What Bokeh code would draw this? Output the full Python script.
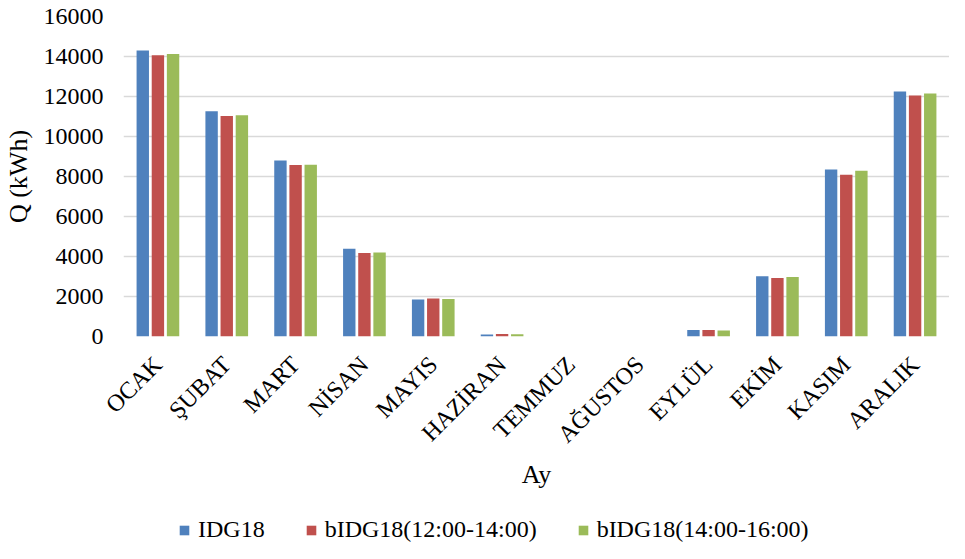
from math import pi
from bokeh.plotting import figure
from bokeh.layouts import column
from bokeh.models import ColumnDataSource, Range1d, Legend, LegendItem, FactorRange, FixedTicker
from bokeh.transform import dodge
from bokeh.embed import file_html
from bokeh.resources import INLINE

months = ["OCAK", "ŞUBAT", "MART", "NİSAN", "MAYIS", "HAZİRAN", "TEMMUZ",
          "AĞUSTOS", "EYLÜL", "EKİM", "KASIM", "ARALIK"]
idg18 = [14300, 11265, 8800, 4385, 1850, 100, 0, 0, 330, 3010, 8350, 12250]
b1214 = [14065, 11030, 8570, 4170, 1900, 120, 0, 0, 330, 2925, 8085, 12050]
b1416 = [14130, 11065, 8590, 4200, 1880, 110, 0, 0, 300, 2975, 8285, 12150]
series_names = ["IDG18", "bIDG18(12:00-14:00)", "bIDG18(14:00-16:00)"]
colors = ["#4F81BD", "#C0504D", "#9BBB59"]
y_ticks = [0, 2000, 4000, 6000, 8000, 10000, 12000, 14000, 16000]

source = ColumnDataSource(data=dict(month=months, idg18=idg18, b1214=b1214, b1416=b1416))
cols = ["idg18", "b1214", "b1416"]

FONT = "Liberation Serif"

p = figure(width=949, height=512, x_range=FactorRange(*months), y_range=Range1d(0, 16000),
           output_backend="svg", toolbar_location=None,
           min_border_left=123, min_border_right=0, min_border_top=16, min_border_bottom=176)

for col, off, c in zip(cols, [-0.22, 0.0, 0.22], colors):
    p.vbar(x=dodge("month", off, range=p.x_range), top=col, width=0.18, source=source,
           fill_color=c, line_color=None)

p.outline_line_color = None
p.xgrid.grid_line_color = None
p.ygrid.grid_line_color = "#d9d9d9"
p.ygrid.grid_line_width = 1.5
p.yaxis.ticker = FixedTicker(ticks=y_ticks)

for ax in (p.xaxis[0], p.yaxis[0]):
    ax.axis_line_color = None
    ax.major_tick_line_color = None
    ax.minor_tick_line_color = None
    ax.major_tick_out = 0
    ax.major_tick_in = 0
    ax.minor_tick_out = 0
    ax.minor_tick_in = 0
    ax.major_label_text_font = FONT
    ax.major_label_text_color = "black"
    ax.axis_label_text_font = FONT
    ax.axis_label_text_font_style = "normal"
    ax.axis_label_text_color = "black"
    ax.axis_label_text_font_size = "26px"

p.yaxis.axis_label = "Q (kWh)"
p.yaxis.major_label_text_font_size = "24px"
p.yaxis.major_label_standoff = 20
p.yaxis.axis_label_standoff = 8

p.xaxis.axis_label = "Ay"
p.xaxis.major_label_text_font_size = "24px"
p.xaxis.major_label_orientation = pi / 4
p.xaxis.major_label_standoff = 24
p.xaxis.axis_label_standoff = 0

# legend strip below the chart (zero-width bars: only the legend swatches show)
lg = figure(width=949, height=31, x_range=FactorRange(*months), y_range=Range1d(-2, -1),
            output_backend="svg", toolbar_location=None,
            x_axis_location=None, y_axis_location=None,
            min_border_left=0, min_border_right=0, min_border_top=0, min_border_bottom=0)
lg.grid.grid_line_color = None
lg.outline_line_color = None
swatches = [lg.vbar(x="month", top=col, width=0, source=source, fill_color=c, line_color=None)
            for col, c in zip(cols, colors)]
items = [LegendItem(label=n, renderers=[r]) for n, r in zip(series_names, swatches)]
legend = Legend(items=items, orientation="horizontal", location=(55, 0),
                label_text_font=FONT, label_text_font_size="24px", label_text_color="black",
                glyph_width=12, glyph_height=12, label_standoff=8, spacing=40,
                padding=0, margin=0, border_line_color=None, background_fill_alpha=0)
lg.add_layout(legend, "center")

layout = column(p, lg, spacing=0)
open("out.html", "w").write(file_html(layout, INLINE))
